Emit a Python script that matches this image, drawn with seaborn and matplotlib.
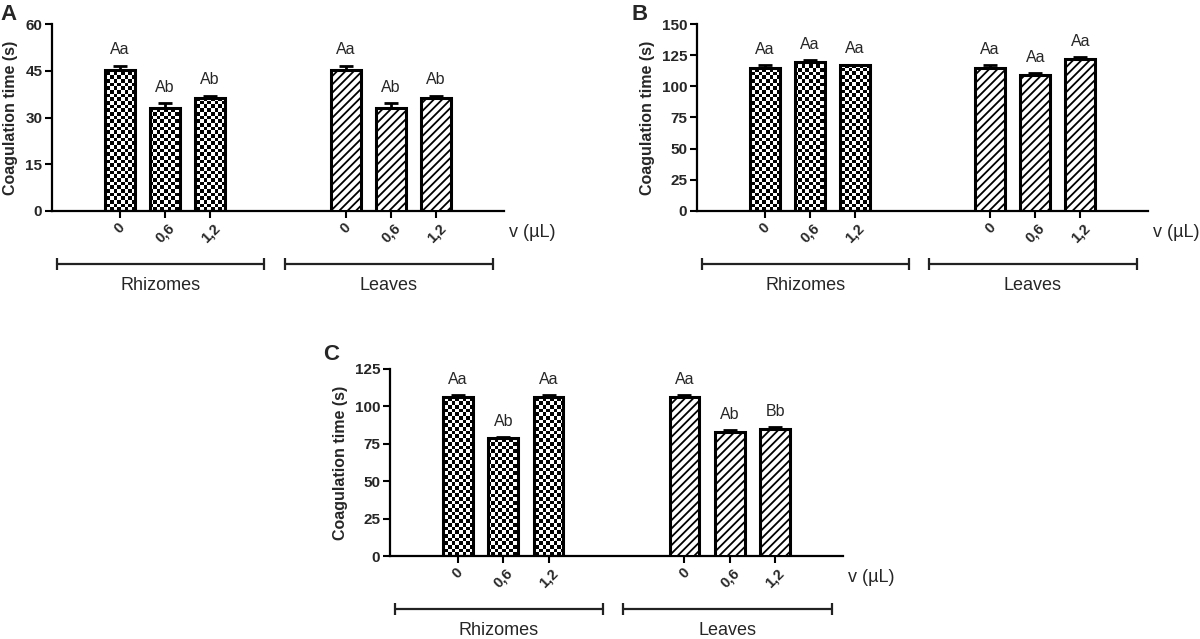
import numpy as np
import pandas as pd
import matplotlib
matplotlib.use("Agg")
import matplotlib.pyplot as plt
import matplotlib.transforms as mtransforms
import seaborn as sns

volumes = ["0", "0,6", "1,2"]
groups = ["Rhizomes", "Leaves"]

# Painel A
a_rhizomes = [45.2, 33.0, 36.2]
a_rhizomes_err = [1.4, 1.6, 0.8]
a_leaves = [45.2, 33.0, 36.2]
a_leaves_err = [1.4, 1.6, 0.8]
a_letters = ["Aa", "Ab", "Ab", "Aa", "Ab", "Ab"]

# Painel B
b_rhizomes = [114.7, 119.5, 116.8]
b_rhizomes_err = [2.3, 1.5, 0.5]
b_leaves = [114.7, 108.8, 121.6]
b_leaves_err = [2.3, 1.5, 2.0]
b_letters = ["Aa", "Aa", "Aa", "Aa", "Aa", "Aa"]

# Painel C
c_rhizomes = [106.5, 78.7, 106.5]
c_rhizomes_err = [1.0, 0.8, 1.0]
c_leaves = [106.5, 83.1, 85.1]
c_leaves_err = [1.0, 0.8, 1.0]
c_letters = ["Aa", "Ab", "Aa", "Aa", "Ab", "Bb"]

sns.set_style("ticks")
plt.rcParams["font.family"] = ["Liberation Sans", "DejaVu Sans"]
plt.rcParams["hatch.linewidth"] = 1.3

DPI = 100
fig = plt.figure(figsize=(12, 6.39), dpi=DPI)


def checker_fill(ax, patch, cell=3.6):
    # textura quadriculada recortada pela barra
    bbox = ax.get_position()
    w_px = bbox.width * fig.get_figwidth() * DPI
    h_px = bbox.height * fig.get_figheight() * DPI
    nx, ny = int(w_px / cell), int(h_px / cell)
    img = np.add.outer(np.arange(ny), np.arange(nx)) % 2
    x0, x1 = ax.get_xlim()
    y0, y1 = ax.get_ylim()
    im = ax.imshow(img, cmap="gray", vmin=0, vmax=1, extent=(x0, x1, y0, y1),
                   aspect="auto", interpolation="nearest", zorder=2)
    im.set_clip_path(patch)


def panel(rect, rhiz, rhiz_err, leaves, leaves_err, letters, ymax, ystep, tag):
    ax = fig.add_axes(rect)
    pos = [0, 1, 2, 5, 6, 7]
    df = pd.DataFrame({
        "pos": pos,
        "time": list(rhiz) + list(leaves),
        "err": list(rhiz_err) + list(leaves_err),
        "group": [groups[0]] * 3 + [groups[1]] * 3,
    })
    sns.barplot(data=df, x="pos", y="time", native_scale=True, width=0.66,
                color="white", edgecolor="black", linewidth=2.2,
                errorbar=None, ax=ax)
    ax.set_xlim(-1.5, 8.5)
    ax.set_ylim(0, ymax)

    bars = ax.patches
    for i, bar in enumerate(bars):
        bar.set_zorder(3)
        if df["group"].iloc[i] == groups[0]:
            bar.set_facecolor("none")
            checker_fill(ax, bar)
        else:
            bar.set_facecolor("white")
            bar.set_hatch("////")
    ax.set_xlim(-1.5, 8.5)
    ax.set_ylim(0, ymax)

    zeros = np.zeros(len(df))
    ax.errorbar(df["pos"], df["time"], yerr=[zeros, df["err"]], fmt="none",
                ecolor="black", elinewidth=2, capsize=5, capthick=2, zorder=4)

    for p, v, e, lab in zip(df["pos"], df["time"], df["err"], letters):
        ax.annotate(lab, (p, v + e), xytext=(0, 6), textcoords="offset points",
                    ha="center", va="bottom", fontsize=11.5)

    ax.set_xticks(pos, labels=volumes * 2)
    plt.setp(ax.get_xticklabels(), rotation=45, ha="center",
             fontweight="bold", fontsize=10.5)
    ax.set_yticks(np.arange(0, ymax + 1, ystep))
    plt.setp(ax.get_yticklabels(), fontweight="bold", fontsize=11)
    ax.tick_params(axis="both", width=1.5, length=5, color="black", pad=2)
    ax.set_xlabel("")
    ax.set_ylabel("Coagulation time (s)", fontweight="bold", fontsize=11.5,
                  labelpad=5)
    sns.despine(ax=ax)
    for s in ("left", "bottom"):
        ax.spines[s].set_linewidth(1.6)
        ax.spines[s].set_color("black")

    ax.text(1.012, -0.115, "v (\u00b5L)", transform=ax.transAxes,
            fontsize=13, ha="left", va="center")

    trans = mtransforms.blended_transform_factory(ax.transData, ax.transAxes)
    for (x0, x1), name in zip([(-1.4, 3.2), (3.65, 8.25)], groups):
        ax.plot([x0, x1], [-0.285, -0.285], color="#222222", lw=1.6,
                transform=trans, clip_on=False)
        ax.plot([x0, x1], [-0.285, -0.285], ls="none", marker="|",
                markersize=9, mew=1.6, color="#222222",
                transform=trans, clip_on=False)
        ax.text((x0 + x1) / 2, -0.40, name, transform=trans, fontsize=13,
                ha="center", va="center")

    fig.text(tag[1], tag[2], tag[0], fontsize=16, fontweight="bold",
             ha="left", va="center")
    return ax


H = 187 / 639
panel([52 / 1200, 1 - 211 / 639, 452 / 1200, H], a_rhizomes, a_rhizomes_err,
      a_leaves, a_leaves_err, a_letters, 60, 15, ("A", 0.0, 1 - 14 / 639))
panel([697 / 1200, 1 - 211 / 639, 451 / 1200, H], b_rhizomes, b_rhizomes_err,
      b_leaves, b_leaves_err, b_letters, 150, 25, ("B", 632 / 1200, 1 - 14 / 639))
panel([390 / 1200, 1 - 556 / 639, 453 / 1200, H], c_rhizomes, c_rhizomes_err,
      c_leaves, c_leaves_err, c_letters, 125, 25, ("C", 323 / 1200, 1 - 355 / 639))

fig.savefig("out.png", dpi=DPI)
